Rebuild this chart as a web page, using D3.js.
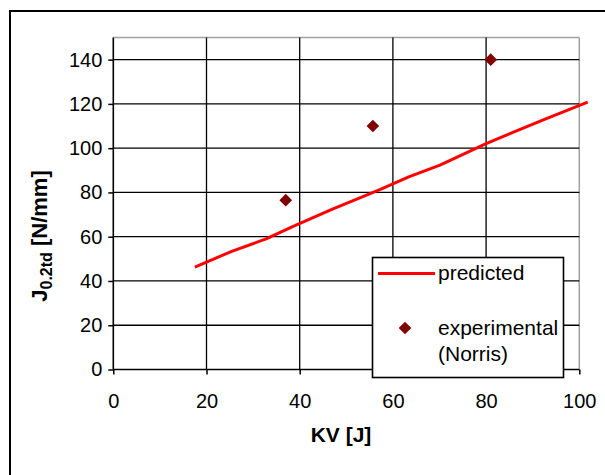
<!DOCTYPE html>
<html>
<head>
<meta charset="utf-8">
<script src="https://cdn.jsdelivr.net/npm/d3@7"></script>
<style>
  body { margin: 0; background: #fff; }
  text { font-family: "Liberation Sans", Arial, sans-serif; }
</style>
</head>
<body>
<div id="chart"></div>
<script>
const width = 605, height = 475;

// predicted curve (KV, J0.2td)
const predKV = [17.5, 25.4, 32.8, 38.6, 46.9, 57.2, 63.4, 70.1, 80.0, 92.4, 101.8];
const predJ  = [46.2, 53.4, 59.0, 64.7, 72.3, 81.3, 87.0, 92.3, 102.1, 112.9, 120.8];

// experimental points (Norris)
const expKV = [37.0, 55.7, 81.0];
const expJ  = [76.5, 110.0, 140.0];

const xTicks = [0, 20, 40, 60, 80, 100];
const yTicks = [0, 20, 40, 60, 80, 100, 120, 140];

const plot = {left: 113.3, right: 579.3, top: 37.5, bottom: 369.5};

const x = d3.scaleLinear().domain([0, 100]).range([plot.left, plot.right]);
const y = d3.scaleLinear().domain([0, 150]).range([plot.bottom, plot.top]);

const svg = d3.select('#chart').append('svg')
  .attr('width', width)
  .attr('height', height);

// outer frame
svg.append('rect')
  .attr('x', 10).attr('y', 11)
  .attr('width', 640).attr('height', 500)
  .attr('fill', '#fff')
  .attr('stroke', '#000')
  .attr('stroke-width', 2);

// plot border (top/right gray)
svg.append('line')
  .attr('x1', plot.left).attr('x2', plot.right)
  .attr('y1', plot.top).attr('y2', plot.top)
  .attr('stroke', '#a0a0a0').attr('stroke-width', 1.5);
svg.append('line')
  .attr('x1', plot.right).attr('x2', plot.right)
  .attr('y1', plot.top).attr('y2', plot.bottom)
  .attr('stroke', '#a0a0a0').attr('stroke-width', 1.5);

// grid
const grid = svg.append('g').attr('stroke', '#000').attr('stroke-width', 1.3);
grid.selectAll('line.h')
  .data(yTicks.filter(d => d > 0))
  .enter().append('line')
  .attr('x1', plot.left).attr('x2', plot.right)
  .attr('y1', d => y(d)).attr('y2', d => y(d));
grid.selectAll('line.v')
  .data(xTicks.filter(d => d > 0 && d < 100))
  .enter().append('line')
  .attr('y1', plot.top).attr('y2', plot.bottom)
  .attr('x1', d => x(d)).attr('x2', d => x(d));

// axes
const xAxis = svg.append('g')
  .attr('transform', `translate(0,${plot.bottom})`)
  .call(d3.axisBottom(x).tickValues(xTicks).tickSize(5).tickPadding(19).tickSizeOuter(0));
const yAxis = svg.append('g')
  .attr('transform', `translate(${plot.left},0)`)
  .call(d3.axisLeft(y).tickValues(yTicks).tickSize(5).tickPadding(6).tickSizeOuter(0));

[xAxis, yAxis].forEach(g => {
  g.select('.domain').remove();
  g.selectAll('line').attr('stroke', '#000').attr('stroke-width', 1.5);
  g.selectAll('text')
    .attr('fill', '#000')
    .style('font-size', '20px')
    .style('font-family', '"Liberation Sans", Arial, sans-serif');
});
// axis lines
svg.append('line')
  .attr('x1', plot.left).attr('x2', plot.right)
  .attr('y1', plot.bottom).attr('y2', plot.bottom)
  .attr('stroke', '#000').attr('stroke-width', 1.6);
svg.append('line')
  .attr('x1', plot.left).attr('x2', plot.left)
  .attr('y1', plot.top).attr('y2', plot.bottom)
  .attr('stroke', '#000').attr('stroke-width', 1.6);

// axis titles
svg.append('text')
  .attr('x', 341).attr('y', 442)
  .attr('text-anchor', 'middle')
  .style('font-size', '21px').style('font-weight', 'bold')
  .text('KV [J]');

const yTitle = svg.append('text')
  .attr('transform', 'translate(47,236) rotate(-90)')
  .attr('text-anchor', 'middle')
  .style('font-size', '22px').style('font-weight', 'bold');
yTitle.append('tspan').text('J');
yTitle.append('tspan').attr('dy', 5).style('font-size', '16px').text('0.2td');
yTitle.append('tspan').attr('dy', -5).text(' [N/mm]');

// predicted line
const predData = predKV.map((k, i) => ({kv: k, j: predJ[i]}));
svg.append('path')
  .datum(predData)
  .attr('fill', 'none')
  .attr('stroke', '#ff0000')
  .attr('stroke-width', 3)
  .attr('stroke-linejoin', 'round')
  .attr('d', d3.line().x(d => x(d.kv)).y(d => y(d.j)));

// experimental diamonds
const diamond = d3.symbol().type(d3.symbolSquare).size(80);
svg.append('g').selectAll('path')
  .data(expKV.map((k, i) => ({kv: k, j: expJ[i]})))
  .enter().append('path')
  .attr('d', diamond)
  .attr('fill', '#800000')
  .attr('transform', d => `translate(${x(d.kv)},${y(d.j)}) rotate(45)`);

// legend
const legend = svg.append('g');
legend.append('rect')
  .attr('x', 372.5).attr('y', 257.5)
  .attr('width', 191).attr('height', 120)
  .attr('fill', '#fff')
  .attr('stroke', '#000')
  .attr('stroke-width', 1.6);
legend.append('line')
  .attr('x1', 378).attr('x2', 435)
  .attr('y1', 273.5).attr('y2', 273.5)
  .attr('stroke', '#ff0000').attr('stroke-width', 3);
legend.append('text')
  .attr('x', 438).attr('y', 280)
  .style('font-size', '21px')
  .text('predicted');
legend.append('path')
  .attr('d', diamond)
  .attr('fill', '#800000')
  .attr('transform', 'translate(405,328) rotate(45)');
legend.append('text')
  .attr('x', 438).attr('y', 335)
  .style('font-size', '21px')
  .text('experimental');
legend.append('text')
  .attr('x', 438).attr('y', 361)
  .style('font-size', '21px')
  .text('(Norris)');
</script>
</body>
</html>
